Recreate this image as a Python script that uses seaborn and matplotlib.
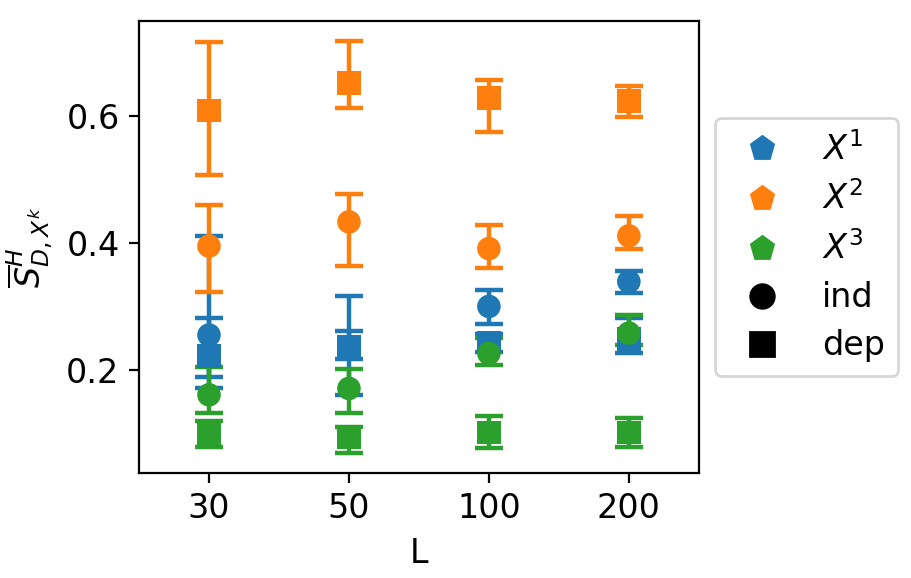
import seaborn as sns
import matplotlib.pyplot as plt
from matplotlib.lines import Line2D
import pandas as pd

sns.set_theme(style="ticks", rc={
    "axes.edgecolor": "black",
    "axes.labelcolor": "black",
    "xtick.color": "black",
    "ytick.color": "black",
    "text.color": "black",
    "font.size": 12,
    "axes.labelsize": 12,
    "xtick.labelsize": 12,
    "ytick.labelsize": 12,
    "legend.fontsize": 12,
    "axes.linewidth": 0.8,
    "xtick.major.width": 0.8,
    "ytick.major.width": 0.8,
    "xtick.major.size": 3.5,
    "ytick.major.size": 3.5,
})
plt.rcParams["font.family"] = ["DejaVu Sans"]

# Daten: Werte und Fehlergrenzen je L
L_labels = ["30", "50", "100", "200"]

x1_ind = [0.255, 0.237, 0.300, 0.339]
x1_ind_lo = [0.189, 0.161, 0.273, 0.321]
x1_ind_hi = [0.411, 0.316, 0.326, 0.355]
x1_dep = [0.222, 0.237, 0.243, 0.249]
x1_dep_lo = [0.172, 0.217, 0.229, 0.226]
x1_dep_hi = [0.282, 0.261, 0.256, 0.281]

x2_ind = [0.395, 0.433, 0.391, 0.411]
x2_ind_lo = [0.323, 0.364, 0.361, 0.391]
x2_ind_hi = [0.459, 0.477, 0.428, 0.442]
x2_dep = [0.608, 0.651, 0.628, 0.623]
x2_dep_lo = [0.507, 0.612, 0.575, 0.598]
x2_dep_hi = [0.716, 0.717, 0.656, 0.647]

x3_ind = [0.161, 0.171, 0.226, 0.258]
x3_ind_lo = [0.132, 0.132, 0.208, 0.239]
x3_ind_hi = [0.204, 0.201, 0.251, 0.286]
x3_dep = [0.099, 0.095, 0.102, 0.102]
x3_dep_lo = [0.079, 0.069, 0.077, 0.079]
x3_dep_hi = [0.119, 0.110, 0.128, 0.124]

colors = {"X1": "#1f77b4", "X2": "#ff7f0e", "X3": "#2ca02c"}

series = [
    ("X1", "ind", x1_ind, x1_ind_lo, x1_ind_hi),
    ("X1", "dep", x1_dep, x1_dep_lo, x1_dep_hi),
    ("X2", "ind", x2_ind, x2_ind_lo, x2_ind_hi),
    ("X2", "dep", x2_dep, x2_dep_lo, x2_dep_hi),
    ("X3", "ind", x3_ind, x3_ind_lo, x3_ind_hi),
    ("X3", "dep", x3_dep, x3_dep_lo, x3_dep_hi),
]

rows = []
for var, kind, vals, lo, hi in series:
    for l, v, a, b in zip(L_labels, vals, lo, hi):
        rows.append({"L": l, "value": v, "lo": a, "hi": b, "var": var, "kind": kind})
df = pd.DataFrame(rows)

fig = plt.figure(figsize=(9.11 / 2, 5.78 / 2), dpi=200)
ax = fig.add_axes([0.1526, 0.1817, 0.6145, 0.782])

# Fehlerbalken zuerst, Marker darueber
for (var, kind), sub in df.groupby(["var", "kind"], sort=False):
    ax.errorbar(sub["L"], sub["value"],
                yerr=[sub["value"] - sub["lo"], sub["hi"] - sub["value"]],
                fmt="none", ecolor=colors[var], elinewidth=1.6,
                capsize=4.9, capthick=1.6, zorder=1)

sns.scatterplot(data=df, x="L", y="value", hue="var", style="kind",
                markers={"ind": "o", "dep": "s"}, palette=colors,
                s=72, linewidth=0, legend=False, ax=ax, zorder=3)

ax.set_xlim(-0.5, 3.5)
ax.set_ylim(0.038, 0.749)
ax.set_yticks([0.2, 0.4, 0.6])
ax.set_xlabel("L")
ax.set_ylabel(r"$\overline{S}^H_{D,X^k}$")

handles = [
    Line2D([], [], marker="p", color=colors["X1"], linestyle="none", markersize=8.5),
    Line2D([], [], marker="p", color=colors["X2"], linestyle="none", markersize=8.5),
    Line2D([], [], marker="p", color=colors["X3"], linestyle="none", markersize=8.5),
    Line2D([], [], marker="o", color="black", linestyle="none", markersize=8.5),
    Line2D([], [], marker="s", color="black", linestyle="none", markersize=8.5),
]
labels = ["$X^1$", "$X^2$", "$X^3$", "ind", "dep"]
ax.legend(handles, labels, loc="center left", bbox_to_anchor=(1.0, 0.5),
          labelspacing=0.45)

fig.savefig("out.png", dpi=200)
